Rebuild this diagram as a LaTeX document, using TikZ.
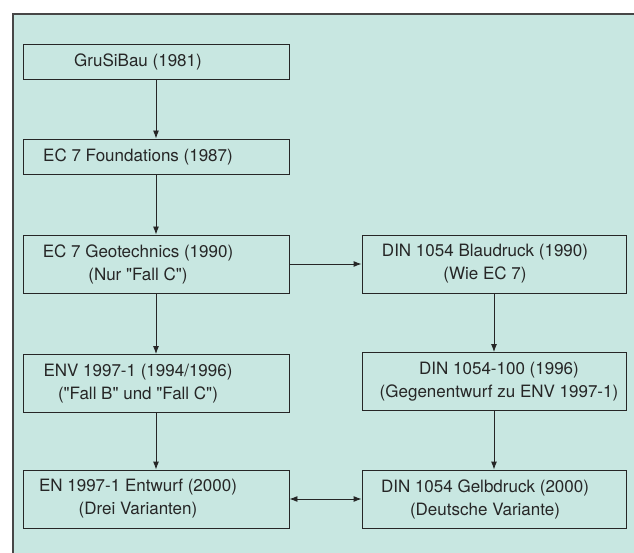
\documentclass[tikz,border=0pt]{standalone}
\usepackage{fontspec}
\setmainfont{TeX Gyre Heros}
\usetikzlibrary{arrows.meta}
\definecolor{panelgreen}{RGB}{200,231,225}
\definecolor{inkgray}{RGB}{38,38,38}
\def\leftcol{156}
\def\rightcol{494}
\def\q{\textquotedbl}

\begin{document}
\begin{tikzpicture}[x=1pt, y=-1pt, >={Latex[length=8pt,width=6pt]}, line width=0.9pt, draw=inkgray]
    \tikzstyle{box}=[draw, minimum height=35pt, inner sep=0pt]
    \tikzstyle{left box}=[box, minimum width=266pt]
    \tikzstyle{right box}=[box, minimum width=264pt]
    \tikzstyle{tall}=[minimum height=58pt]
    \tikzstyle{box text}=[align=center, font=\fontsize{17}{23}\selectfont, text=inkgray]
    \tikzstyle{left text}=[box text, xshift=-18pt]
    \tikzstyle{right text}=[box text, xshift=-9pt]

    \useasboundingbox (0,0) rectangle (634,553);
    \fill[panelgreen] (13,14) rectangle (634,553);
    \draw[line width=1.6pt, inkgray!85] (13,553) -- (13,14) -- (634,14);

    % left column
    \node[left box, label={[left text]center:GruSiBau (1981)}] (grusibau) at (\leftcol,61.5) {};
    \node[left box, label={[left text]center:EC 7 Foundations (1987)}] (foundations) at (\leftcol,156.5) {};
    \node[left box, tall, label={[left text]center:{EC 7 Geotechnics (1990)\\(Nur \q Fall C\q)}}] (geotech) at (\leftcol,264) {};
    \node[left box, tall, label={[left text]center:{ENV 1997-1 (1994/1996)\\(\q Fall B\q{} und \q Fall C\q)}}] (env) at (\leftcol,383.5) {};
    \node[left box, tall, label={[left text]center:{EN 1997-1 Entwurf (2000)\\(Drei Varianten)}}] (entwurf) at (\leftcol,499) {};

    % right column
    \node[right box, tall, label={[right text]center:{DIN 1054 Blaudruck (1990)\\(Wie EC 7)}}] (blaudruck) at (\rightcol,264) {};
    \node[right box, tall, label={[right text, xshift=14pt]center:{DIN 1054-100 (1996)\\(Gegenentwurf zu ENV 1997-1)}}] (din100) at (\rightcol,381.5) {};
    \node[right box, tall, label={[right text]center:{DIN 1054 Gelbdruck (2000)\\(Deutsche Variante)}}] (gelbdruck) at (\rightcol,499) {};

    \draw[->] (grusibau) -- (foundations);
    \draw[->] (foundations) -- (geotech);
    \draw[->] (geotech) -- (env);
    \draw[->] (env) -- (entwurf);
    \draw[->] (geotech) -- (blaudruck);
    \draw[->] (blaudruck) -- (din100);
    \draw[->] (din100) -- (gelbdruck);
    \draw[<->] (entwurf) -- (gelbdruck);
\end{tikzpicture}
\end{document}
